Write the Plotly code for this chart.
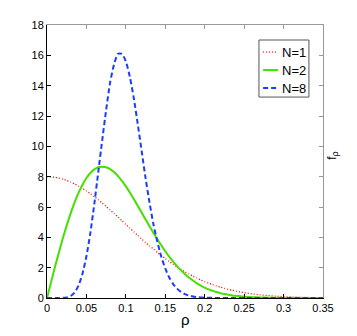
import plotly.graph_objects as go

# density of rho for N = 1, 2, 8
rho = [
    0.0, 0.005, 0.01, 0.015, 0.02, 0.025, 0.03, 0.035, 0.04, 0.045,
    0.05, 0.055, 0.06, 0.065, 0.07, 0.075, 0.08, 0.085, 0.09, 0.095,
    0.1, 0.105, 0.11, 0.115, 0.12, 0.125, 0.13, 0.135, 0.14, 0.145,
    0.15, 0.155, 0.16, 0.165, 0.17, 0.175, 0.18, 0.185, 0.19, 0.195,
    0.2, 0.205, 0.21, 0.215, 0.22, 0.225, 0.23, 0.235, 0.24, 0.245,
    0.25, 0.26, 0.27, 0.28, 0.29, 0.3, 0.31, 0.32, 0.33, 0.34, 0.35,
]
f_n1 = [
    8.00, 7.99, 7.96, 7.91, 7.84, 7.75, 7.65, 7.52, 7.38, 7.23,
    7.06, 6.88, 6.68, 6.48, 6.26, 6.04, 5.81, 5.57, 5.34, 5.09,
    4.85, 4.61, 4.37, 4.13, 3.89, 3.66, 3.44, 3.22, 3.00, 2.80,
    2.60, 2.41, 2.22, 2.05, 1.89, 1.73, 1.58, 1.44, 1.32, 1.19,
    1.08, 0.98, 0.88, 0.79, 0.71, 0.64, 0.57, 0.51, 0.45, 0.40,
    0.35, 0.27, 0.21, 0.16, 0.12, 0.09, 0.065, 0.048, 0.035, 0.025, 0.017,
]
f_n2 = [
    0.0, 1.02, 2.02, 2.99, 3.92, 4.79, 5.58, 6.30, 6.93, 7.47,
    7.91, 8.24, 8.48, 8.62, 8.66, 8.62, 8.50, 8.30, 8.04, 7.72,
    7.36, 6.96, 6.53, 6.08, 5.64, 5.18, 4.73, 4.29, 3.87, 3.46,
    3.08, 2.72, 2.40, 2.09, 1.82, 1.57, 1.35, 1.15, 0.97, 0.82,
    0.69, 0.57, 0.48, 0.39, 0.32, 0.26, 0.21, 0.17, 0.14, 0.11,
    0.087, 0.054, 0.032, 0.019, 0.011, 0.006, 0.003, 0.002, 0.001, 0.0, 0.0,
]
f_n8 = [
    0.0, 0.0, 0.0, 0.0, 0.01, 0.04, 0.13, 0.36, 0.82, 1.6,
    2.75, 4.3, 6.2, 8.3, 10.4, 12.4, 14.2, 15.4, 16.1, 16.1,
    15.6, 14.6, 13.2, 11.5, 9.7, 7.9, 6.3, 4.85, 3.7, 2.7,
    1.95, 1.35, 0.92, 0.62, 0.40, 0.25, 0.16, 0.10, 0.06, 0.035,
    0.02, 0.014, 0.01, 0.006, 0.004, 0.002, 0.001, 0.0, 0.0, 0.0,
    0.0, 0.0, 0.0, 0.0, 0.0, 0.0, 0.0, 0.0, 0.0, 0.0, 0.0,
]
series_names = ['N=1', 'N=2', 'N=8']
x_ticks = [0, 0.05, 0.1, 0.15, 0.2, 0.25, 0.3, 0.35]
x_tick_labels = ['0', '0.05', '0.1', '0.15', '0.2', '0.25', '0.3', '0.35']
y_ticks = [0, 2, 4, 6, 8, 10, 12, 14, 16, 18]

FONT = 'Liberation Sans, Arial, sans-serif'
line_styles = [
    dict(color='#ff0000', width=1.3, dash='1px,2px'),
    dict(color='#44e000', width=2, dash='solid'),
    dict(color='#1a3cff', width=2, dash='5px,3px'),
]

fig = go.Figure()
for values, name, style in zip([f_n1, f_n2, f_n8], series_names, line_styles):
    fig.add_trace(go.Scatter(
        x=rho, y=values, name=name, mode='lines',
        line=dict(**style, shape='spline', smoothing=0.6),
        showlegend=False,
    ))

axis_common = dict(
    showgrid=False, zeroline=False, ticks='inside', ticklen=4, automargin=False,
    tickfont=dict(family=FONT, size=11, color='black'),
)
fig.update_layout(
    width=357, height=336,
    margin=dict(l=47, r=34, t=25, b=38),
    paper_bgcolor='white', plot_bgcolor='white',
    font=dict(family=FONT, color='black'),
    showlegend=False,
    xaxis=dict(
        range=[0, 0.35], tickvals=x_ticks, ticktext=x_tick_labels,
        showline=True, linecolor='black', linewidth=1, tickcolor='black',
        **axis_common,
    ),
    yaxis=dict(
        range=[0, 18], tickvals=y_ticks,
        showline=True, linecolor='black', linewidth=1, tickcolor='black',
        **axis_common,
    ),
    xaxis2=dict(
        range=[0, 0.35], tickvals=x_ticks, overlaying='x', side='top',
        showline=True, linecolor='#999999', linewidth=1, tickcolor='#999999',
        showticklabels=False, showgrid=False, zeroline=False,
        ticks='inside', ticklen=4, automargin=False,
    ),
    yaxis2=dict(
        range=[0, 18], tickvals=y_ticks, overlaying='y', side='right',
        showline=True, linecolor='#999999', linewidth=1, tickcolor='#999999',
        showticklabels=False, showgrid=False, zeroline=False,
        ticks='inside', ticklen=4, automargin=False,
    ),
)
# invisible trace to bring up the mirrored top/right axes
fig.add_trace(go.Scatter(
    x=[0], y=[0], xaxis='x2', yaxis='y2', mode='markers',
    marker=dict(opacity=0), showlegend=False, hoverinfo='skip',
))
# axis labels: rho under the x axis, f_rho on the right side
fig.add_annotation(
    text='ρ', xref='paper', yref='paper', x=0.5, y=-0.08,
    xanchor='center', yanchor='middle', showarrow=False,
    font=dict(family=FONT, size=15, color='black'),
)
fig.add_annotation(
    text='f<sub>ρ</sub>', xref='paper', yref='paper', x=1.035, y=0.52,
    xanchor='center', yanchor='middle', textangle=-90, showarrow=False,
    font=dict(family=FONT, size=12, color='black'),
)

# compact MATLAB-style legend box in the upper right corner
fig.add_shape(
    type='rect', xref='paper', yref='paper', x0=0.768, x1=0.949, y0=0.736, y1=0.945,
    line=dict(color='#555555', width=1), fillcolor='white', layer='above',
)
legend_rows = [0.901, 0.835, 0.769]
for name, style, row in zip(series_names, line_styles, legend_rows):
    fig.add_shape(
        type='line', xref='paper', yref='paper', x0=0.783, x1=0.837, y0=row, y1=row,
        line=style, layer='above',
    )
    fig.add_annotation(
        text=name, xref='paper', yref='paper', x=0.845, y=row,
        xanchor='left', yanchor='middle', showarrow=False,
        font=dict(family=FONT, size=13, color='black'),
    )

# drop the browser's default body margin so the figure sits at the corner
fig.write_html(
    'out.html',
    config={'displayModeBar': False},
    post_script="document.body.style.margin = '0';",
)
